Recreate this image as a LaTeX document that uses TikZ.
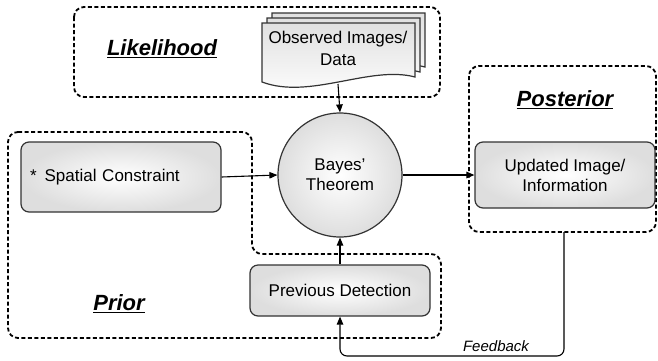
\documentclass[tikz,border=0pt]{standalone}
\usepackage{fontspec}
\setmainfont{Liberation Sans}
\usetikzlibrary{arrows.meta}

\begin{document}
\begin{tikzpicture}[x=1pt,y=-1pt,
  region/.style={draw=black,line width=1.8pt,dash pattern=on 4pt off 2.5pt,rounded corners=10pt},
  heading/.style={font=\fontsize{22}{25}\selectfont\bfseries\itshape},
  stepbox/.style={draw=black!80,line width=1.2pt,rounded corners=8pt,inner color=white,outer color=black!13,
    align=center,font=\fontsize{17}{20}\selectfont},
  docsheet/.style={draw=black!80,line width=1.2pt,top color=black!12,bottom color=white},
  flow/.style={draw=black,line width=1.1pt,-{Triangle[length=8pt,width=6.5pt]}}]
\useasboundingbox (0,0) rectangle (658,360);

% Regions
\draw[region] (74,7) rectangle (440,97); % Likelihood
\draw[region] (8,132) -- (252,132) -- (252,254) -- (441,254) -- (441,338) -- (8,338) -- cycle; % Prior
\draw[region] (469,66) rectangle (656,232); % Posterior

% Observed data (stack of sheets)
\foreach \d in {10,5,0}
  \draw[docsheet,shift={(\d,-\d)}] (262,23) -- (415,23) -- (415,77)
    .. controls (370,65) and (310,100) .. (262,82) -- cycle;
\node[align=center,font=\fontsize{17}{22}\selectfont] (obs) at (338,48) {Observed Images/\\Data};
\coordinate (obsbottom) at (338,84);

% Steps
\node[stepbox,circle,minimum size=124pt,inner sep=0pt] (bayes) at (340,175) {Bayes’\\Theorem};
\node[stepbox,text width=182pt,align=left,inner xsep=9pt,minimum height=70pt] (spatial) at (121,177)
  {*\hspace{8pt}Spatial Constraint};
\node[stepbox,minimum width=180pt,minimum height=51pt] (prev) at (340,290.5) {Previous Detection};
\node[stepbox,minimum width=180pt,minimum height=66pt] (updated) at (565,175) {Updated Image/\\Information};

% Writing
\node[heading] (likelihood) at (162,49) {\underline{Likelihood}};
\node[heading] (prior) at (119,304) {\underline{Prior}};
\node[heading] (posterior) at (565,100) {\underline{Posterior}};
\coordinate (fb) at (564,232);

% Arrows
\draw[flow] (obsbottom) -- (bayes.north);
\draw[flow] (spatial.east) -- (bayes.west);
\draw[flow] (prev.north) -- (bayes.south);
\draw[flow] (bayes.east) -- (updated.west);
\draw[flow,rounded corners=7pt] (fb) -- (564,356) -| (prev.south);
\node[font=\fontsize{15}{17}\selectfont\itshape] (feedback) at (496,346) {Feedback};
\end{tikzpicture}
\end{document}
